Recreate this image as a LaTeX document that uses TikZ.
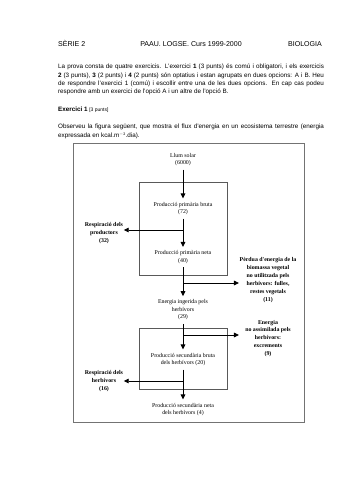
\documentclass[tikz,border=0pt]{standalone}
\usepackage{fontspec}
\setmainfont{Liberation Sans}
\newfontfamily\diagfont{Liberation Serif}
\usetikzlibrary{arrows.meta}
\begin{document}
\begin{tikzpicture}[x=1.7pt,y=-1.7pt,
  line/.style={inner sep=0pt, anchor=base west, font=\fontsize{10.7}{12}\selectfont},
  dtext/.style={inner sep=1pt, align=center, font=\diagfont\fontsize{10}{12.75}\selectfont},
  dbold/.style={inner sep=1pt, align=center, font=\diagfont\bfseries\fontsize{10}{13.5}\selectfont},
  arr/.style={draw=black, line width=1.6pt, -{Triangle[length=8.5pt,width=8pt]}},
  vflow/.style={arr, shorten <=5pt, shorten >=5pt},
  boxline/.style={draw=black!65, line width=0.6pt},
  frameline/.style={draw=black!55, line width=0.8pt}]
\useasboundingbox (0,0) rectangle (350,495);
\fill[white] (0,0) rectangle (350,495);
% header
\node[inner sep=0pt, anchor=base west, font=\fontsize{12}{14}\selectfont] (h1) at (58,47) {SÈRIE 2};
\node[inner sep=0pt, anchor=base, font=\fontsize{12}{14}\selectfont] (h2) at (191,47) {PAAU. LOGSE. Curs 1999-2000};
\node[inner sep=0pt, anchor=base east, font=\fontsize{12}{14}\selectfont] (h3) at (322,47) {BIOLOGIA};
% paragraph
\node[line] (p1) at (58,69) {\makebox[452pt][s]{La prova consta de quatre exercicis. L'exercici \textbf{1} (3 punts) és comú i obligatori, i els exercicis}};
\node[line] (p2) at (58,77.3) {\makebox[452pt][s]{\textbf{2} (3 punts), \textbf{3} (2 punts) i \textbf{4} (2 punts) són optatius i estan agrupats en dues opcions: A i B. Heu}};
\node[line] (p3) at (58,85.7) {\makebox[452pt][s]{de respondre l'exercici 1 (comú) i escollir entre una de les dues opcions. En cap cas podeu}};
\node[line] (p4) at (58,94) {respondre amb un exercici de l'opció A i un altre de l'opció B.};
\node[line] (ex) at (58,112) {\textbf{Exercici 1} {\fontsize{8.5}{10}\selectfont [3 punts]}};
\node[line] (o1) at (58,129) {\makebox[452pt][s]{Observeu la figura següent, que mostra el flux d'energia en un ecosistema terrestre (energia}};
\node[line] (o2) at (58,137.5) {expressada en kcal.m$^{-2}$.dia).};
% frame and boxes
\draw[frameline] (73,143) rectangle (304,422);
\draw[boxline] (139,182) rectangle (227,275);
\draw[boxline] (139,328) rectangle (227,389);
% nodes
\node[dtext] (llum) at (183,159.5) {Llum solar\\(6000)};
\node[dtext] (ppb) at (183,208.5) {Producció primària bruta\\(72)};
\node[dtext] (ppn) at (183,257) {Producció primària neta\\(40)};
\node[dtext] (ei) at (183,310) {Energia ingerida pels\\herbívors\\(29)};
\node[dtext] (psb) at (183,359.5) {Producció secundària bruta\\dels herbívors (20)};
\node[dtext] (psn) at (183,409.5) {Producció secundària neta\\dels herbívors (4)};
\node[dbold] (resp1) at (104,233.5) {Respiració dels\\productors\\(32)};
\node[dbold] (perd) at (268,280) {Pèrdua d'energia de la\\biomassa vegetal\\no utilitzada pels\\herbívors: fulles,\\restes vegetals\\(11)};
\node[dbold] (energ) at (268,338.5) {Energia\\no assimilada pels\\herbívors:\\excrements\\(9)};
\node[dbold] (resp2) at (104,381) {Respiració dels\\herbívors\\(16)};
% vertical flow
\draw[vflow] (llum) -- (ppb);
\draw[vflow] (ppb) -- (ppn);
\draw[vflow] (ppn) -- (ei);
\draw[vflow] (ei) -- (psb);
\draw[vflow] (psb) -- (psn);
% branches
\coordinate (j1) at (183,230);
\coordinate (j2) at (183,283);
\coordinate (j3) at (183,335);
\coordinate (j4) at (183,381);
\draw[arr] (j1) -- (j1 -| resp1.east);
\draw[arr] (j2) -- (j2 -| perd.west);
\draw[arr] (j3) -- (j3 -| perd.west);
\draw[arr] (j4) -- (j4 -| resp2.east);
\end{tikzpicture}
\end{document}
